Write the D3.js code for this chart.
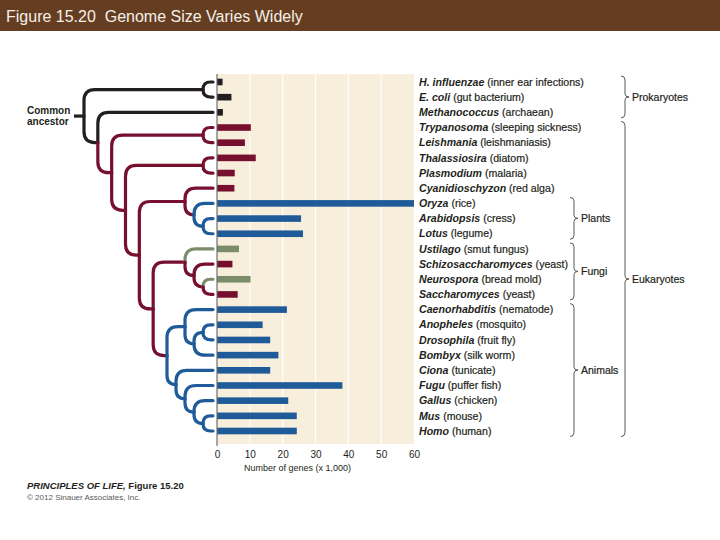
<!DOCTYPE html>
<html>
<head>
<meta charset="utf-8">
<script src="https://cdn.jsdelivr.net/npm/d3@7"></script>
<style>
  html, body { margin: 0; padding: 0; background: #fff; }
  svg { display: block; font-family: "Liberation Sans", Arial, sans-serif; }
</style>
</head>
<body>
<svg id="chart" width="720" height="540"></svg>
<script>
'use strict';

//  --------------------------------  DATA  --------------------------------  //

const genera = [
  'H. influenzae', 'E. coli', 'Methanococcus', 'Trypanosoma', 'Leishmania',
  'Thalassiosira', 'Plasmodium', 'Cyanidioschyzon', 'Oryza', 'Arabidopsis',
  'Lotus', 'Ustilago', 'Schizosaccharomyces', 'Neurospora', 'Saccharomyces',
  'Caenorhabditis', 'Anopheles', 'Drosophila', 'Bombyx', 'Ciona',
  'Fugu', 'Gallus', 'Mus', 'Homo'
];

const commonNames = [
  '(inner ear infections)', '(gut bacterium)', '(archaean)', '(sleeping sickness)', '(leishmaniasis)',
  '(diatom)', '(malaria)', '(red alga)', '(rice)', '(cress)',
  '(legume)', '(smut fungus)', '(yeast)', '(bread mold)', '(yeast)',
  '(nematode)', '(mosquito)', '(fruit fly)', '(silk worm)', '(tunicate)',
  '(puffer fish)', '(chicken)', '(mouse)', '(human)'
];

// thousands of genes
const geneCounts = [
  1.7, 4.4, 1.8, 10.3, 8.5,
  11.8, 5.4, 5.3, 60, 25.6,
  26.2, 6.7, 4.7, 10.2, 6.3,
  21.3, 13.9, 16.2, 18.7, 16.2,
  38.2, 21.7, 24.3, 24.3
];

const lineage = [
  'prokaryote', 'prokaryote', 'prokaryote', 'protist', 'protist',
  'protist', 'protist', 'protist', 'plant', 'plant',
  'plant', 'mold', 'yeast', 'mold', 'yeast',
  'animal', 'animal', 'animal', 'animal', 'animal',
  'animal', 'animal', 'animal', 'animal'
];

// tree topology, leaves are row indices
const phylogeny = [
  [0, 1],
  [2, [
    [3, 4],
    [[5, 6], [
      [7, [8, [9, 10]]],
      [
        [11, [12, [13, 14]]],
        [[15, [[16, 17], 18]], [19, [20, [21, [22, 23]]]]]
      ]
    ]]
  ]]
];

const tickValues = [0, 10, 20, 30, 40, 50, 60];

const groupLabels = ['Plants', 'Fungi', 'Animals'];
const groupRanges = [[8, 10], [11, 14], [15, 23]];
const domainLabels = ['Prokaryotes', 'Eukaryotes'];
const domainRanges = [[0, 2], [3, 23]];

const colours = {
  prokaryote: '#231f20',
  protist: '#770f2f',
  yeast: '#770f2f',
  plant: '#1f5b98',
  animal: '#1f5b98',
  mold: '#7b8c6b'
};

const ink = '#231f20';


class GenomeChart {
  /**
   * @summary Genome size figure
   * @description Tree on the left, gene count bars in the middle, brackets on the right
   **/
  constructor(selector) {
    this._svg = d3.select(selector);
    this._scales = {};

    this._init();
    this._drawHeader();
    this._drawPlot();
    this._drawTree();
    this._drawLabels();
    this._drawBrackets();
    this._drawFooter();
  }

  //  --------------------------------  PRIVATE METHODS  --------------------------------  //

  _init() {
    this._scales.value = d3.scaleLinear().domain([0, 60]).range([217, 414]);
    this._scales.row = d3.scalePoint().domain(d3.range(genera.length)).range([82, 431]);
    // node height -> horizontal position of the node
    this._scales.depth = d3.scaleLinear().domain([0, 1, 5, 11]).range([213, 203, 167, 84]);
  }

  _drawHeader() {
    this._svg.append('rect')
      .attr('x', 0).attr('y', 0)
      .attr('width', 720).attr('height', 31)
      .attr('fill', '#653e21');

    this._svg.append('text')
      .attr('x', 6).attr('y', 21.5)
      .attr('font-size', 16)
      .attr('fill', '#f5f0e8')
      .style('white-space', 'pre')
      .text('Figure 15.20  Genome Size Varies Widely');
  }

  _drawPlot() {
    const x = this._scales.value;
    const y = this._scales.row;
    const g = this._svg.append('g');

    g.append('rect')
      .attr('x', x(0)).attr('y', 74)
      .attr('width', x(60) - x(0)).attr('height', 370)
      .attr('fill', '#f7eedc');

    g.selectAll('line.grid')
      .data(tickValues.filter(t => t > 0 && t < 60))
      .enter()
      .append('line')
      .attr('class', 'grid')
      .attr('x1', d => x(d)).attr('x2', d => x(d))
      .attr('y1', 74).attr('y2', 444)
      .attr('stroke', '#fff')
      .attr('stroke-width', 1.2);

    g.selectAll('rect.bar')
      .data(geneCounts)
      .enter()
      .append('rect')
      .attr('class', 'bar')
      .attr('x', x(0))
      .attr('y', (d, i) => y(i) - 3.3)
      .attr('width', d => x(d) - x(0))
      .attr('height', 6.6)
      .attr('fill', (d, i) => colours[lineage[i]]);

    g.append('line')
      .attr('x1', x(0)).attr('x2', x(0))
      .attr('y1', 74).attr('y2', 446)
      .attr('stroke', '#6d6e71')
      .attr('stroke-width', 1.2);

    const axis = d3.axisBottom(x).tickValues(tickValues).tickSize(0).tickPadding(0);
    const axisG = g.append('g')
      .attr('transform', 'translate(0,451)')
      .call(axis);
    axisG.select('.domain').remove();
    axisG.selectAll('text')
      .attr('font-family', 'Liberation Sans, Arial, sans-serif')
      .attr('font-size', 10)
      .attr('fill', ink);

    g.append('text')
      .attr('x', 244).attr('y', 470.5)
      .attr('font-size', 9)
      .attr('fill', ink)
      .text('Number of genes (x 1,000)');
  }

  _drawTree() {
    const depth = this._scales.depth;
    const row = this._scales.row;
    const leafEnd = this._scales.value(0) - 4;

    const root = d3.hierarchy(phylogeny, d => (Array.isArray(d) ? d : null));

    root.eachAfter(node => {
      if (node.children) {
        const first = node.children[0];
        const last = node.children[node.children.length - 1];
        node.y = (first.y + last.y) / 2;
        node.x = depth(node.height);
        const tones = new Set(node.leaves().map(l => colours[lineage[l.data]]));
        node.colour = tones.size === 1 ? [...tones][0] : colours.protist;
      } else {
        node.y = row(node.data);
        node.x = leafEnd;
        node.colour = colours[lineage[node.data]];
      }
    });
    root.colour = colours.prokaryote;

    const elbow = (s, t) => {
      const dy = t.y - s.y;
      if (Math.abs(dy) < 0.5) return `M${s.x},${s.y}H${t.x}`;
      const sign = dy < 0 ? -1 : 1;
      const r = Math.min(11, Math.abs(dy), t.x - s.x);
      return `M${s.x},${s.y}V${t.y - sign * r}Q${s.x},${t.y} ${s.x + r},${t.y}H${t.x}`;
    };

    const g = this._svg.append('g')
      .attr('fill', 'none')
      .attr('stroke-width', 3.2)
      .attr('stroke-linecap', 'round');

    g.selectAll('path')
      .data(root.links())
      .enter()
      .append('path')
      .attr('d', d => elbow(d.source, d.target))
      .attr('stroke', d => (d.target.children ? d.source.colour : d.target.colour));

    // stub into the common ancestor
    g.append('path')
      .attr('d', `M${root.x - 10},${root.y}H${root.x}`)
      .attr('stroke', colours.prokaryote)
      .attr('stroke-linecap', 'butt');

    const label = this._svg.append('text')
      .attr('font-size', 10)
      .attr('font-weight', 'bold')
      .attr('fill', ink);
    label.append('tspan').attr('x', 27).attr('y', root.y - 2.5).text('Common');
    label.append('tspan').attr('x', 27).attr('y', root.y + 8.5).text('ancestor');
  }

  _drawLabels() {
    const row = this._scales.row;

    const labels = this._svg.append('g')
      .attr('font-size', 10.6)
      .attr('fill', ink)
      .selectAll('text')
      .data(genera)
      .enter()
      .append('text')
      .attr('x', 419)
      .attr('y', (d, i) => row(i))
      .attr('dy', '0.35em');

    labels.append('tspan')
      .attr('font-style', 'italic')
      .attr('font-weight', 'bold')
      .text(d => d);

    labels.append('tspan')
      .attr('stroke', ink)
      .attr('stroke-width', 0.2)
      .text((d, i) => ' ' + commonNames[i]);
  }

  _drawBrackets() {
    const row = this._scales.row;

    const brace = (x0, y0, y1) => {
      const x1 = x0 + 4;
      const ym = (y0 + y1) / 2;
      return `M${x0},${y0}Q${x1},${y0} ${x1},${y0 + 4}V${ym - 3}Q${x1},${ym} ${x1 + 4},${ym}`
        + `Q${x1},${ym} ${x1},${ym + 3}V${y1 - 4}Q${x1},${y1} ${x0},${y1}`;
    };

    const draw = (names, ranges, x0) => {
      const g = this._svg.append('g');
      names.forEach((name, i) => {
        const y0 = row(ranges[i][0]) - 6;
        const y1 = row(ranges[i][1]) + 5.5;
        g.append('path')
          .attr('d', brace(x0, y0, y1))
          .attr('fill', 'none')
          .attr('stroke', '#58595b')
          .attr('stroke-width', 1);
        g.append('text')
          .attr('x', x0 + 11)
          .attr('y', (y0 + y1) / 2)
          .attr('dy', '0.35em')
          .attr('font-size', 10.5)
          .attr('stroke', ink)
          .attr('stroke-width', 0.2)
          .attr('fill', ink)
          .text(name);
      });
    };

    draw(groupLabels, groupRanges, 570);
    draw(domainLabels, domainRanges, 621);
  }

  _drawFooter() {
    const title = this._svg.append('text')
      .attr('x', 27).attr('y', 489)
      .attr('font-size', 9.5)
      .attr('font-weight', 'bold')
      .attr('fill', ink);
    title.append('tspan').attr('font-style', 'italic').text('PRINCIPLES OF LIFE,');
    title.append('tspan').text(' Figure 15.20');

    this._svg.append('text')
      .attr('x', 27).attr('y', 500)
      .attr('font-size', 8)
      .attr('fill', '#58595b')
      .text('\u00a9 2012 Sinauer Associates, Inc.');
  }
}


new GenomeChart('#chart');
</script>
</body>
</html>
